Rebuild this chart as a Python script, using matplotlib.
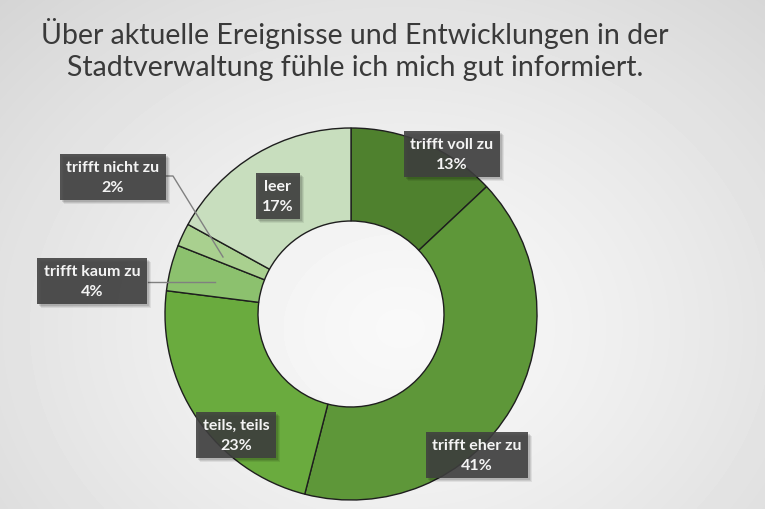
import numpy as np
import matplotlib
matplotlib.use("Agg")
import matplotlib.pyplot as plt
from matplotlib.patches import Rectangle

# survey answers, clockwise from 12 o'clock
categories = ["trifft voll zu", "trifft eher zu", "teils, teils",
              "trifft kaum zu", "trifft nicht zu", "leer"]
shares = [13, 41, 23, 4, 2, 17]
colors = ["#4f812e", "#5e9739", "#6aab3e", "#8cc16e", "#a9d08f", "#c8debe"]

title = ("Über aktuelle Ereignisse und Entwicklungen in der\n"
         "Stadtverwaltung fühle ich mich gut informiert.")

W, H = 765, 510
fig = plt.figure(figsize=(W / 100, H / 100), dpi=100)
ax = fig.add_axes([0, 0, 1, 1])

# soft radial background, light in the upper middle, grey to the edges
yy, xx = np.mgrid[0:H, 0:W]
d = np.hypot((xx - 400) / 520.0, (yy - 180) / 420.0)
shade = np.clip(0.975 - 0.125 * d ** 1.3, 0.83, 0.975)
ax.imshow(shade, cmap="gray", vmin=0, vmax=1, extent=(0, W, H, 0),
          zorder=0, interpolation="bilinear")

cx, cy, r = 351, H - 315, 186
wedges, _ = ax.pie(shares, colors=colors, startangle=90, counterclock=False,
                   center=(cx, cy), radius=r, frame=True,
                   wedgeprops=dict(width=r * 0.5, edgecolor="#1e1e1e",
                                   linewidth=1.0))
for w in wedges:
    w.set_zorder(2)
ax.set_xlim(0, W)
ax.set_ylim(0, H)
ax.set_aspect("equal")
ax.axis("off")

# leader lines for the two small slices
ax.plot([166, 173, 223], [H - 177, H - 177, H - 258], color="#808080",
        lw=1.0, zorder=3)
ax.plot([148, 215], [H - 283, H - 283], color="#808080", lw=1.0, zorder=3)

# label boxes (centre in pixels, from top)
label_pos = [(452, 155), (477, 456), (236, 436), (92, 282), (113, 178), (278, 197)]
labels = []
for name, val, (lx, ly) in zip(categories, shares, label_pos):
    t = ax.text(lx, H - ly, f"{name}\n{val}%", ha="center", va="center",
                fontsize=11.5, fontweight="bold", family="Lato",
                color="#f4f4f4", linespacing=1.55, zorder=5,
                bbox=dict(boxstyle="square,pad=0.4", facecolor="#3f3f3f",
                          edgecolor="none", alpha=0.88))
    labels.append(t)

# soft drop shadow behind each box
fig.canvas.draw()
inv = ax.transData.inverted()
for t in labels:
    bb = t.get_bbox_patch().get_window_extent()
    (x0, y0), (x1, y1) = inv.transform([[bb.x0, bb.y0], [bb.x1, bb.y1]])
    for k, a in [(4, 0.07), (3, 0.09), (2, 0.11)]:
        ax.add_patch(Rectangle((x0 + k, y0 - k), x1 - x0, y1 - y0,
                               facecolor="black", edgecolor="none",
                               alpha=a, zorder=4))

fig.text(0.464, 0.965, title, ha="center", va="top", fontsize=20.5,
         family="Lato", color="#3a3a3a", linespacing=1.3)

fig.savefig("out.png", dpi=100)
